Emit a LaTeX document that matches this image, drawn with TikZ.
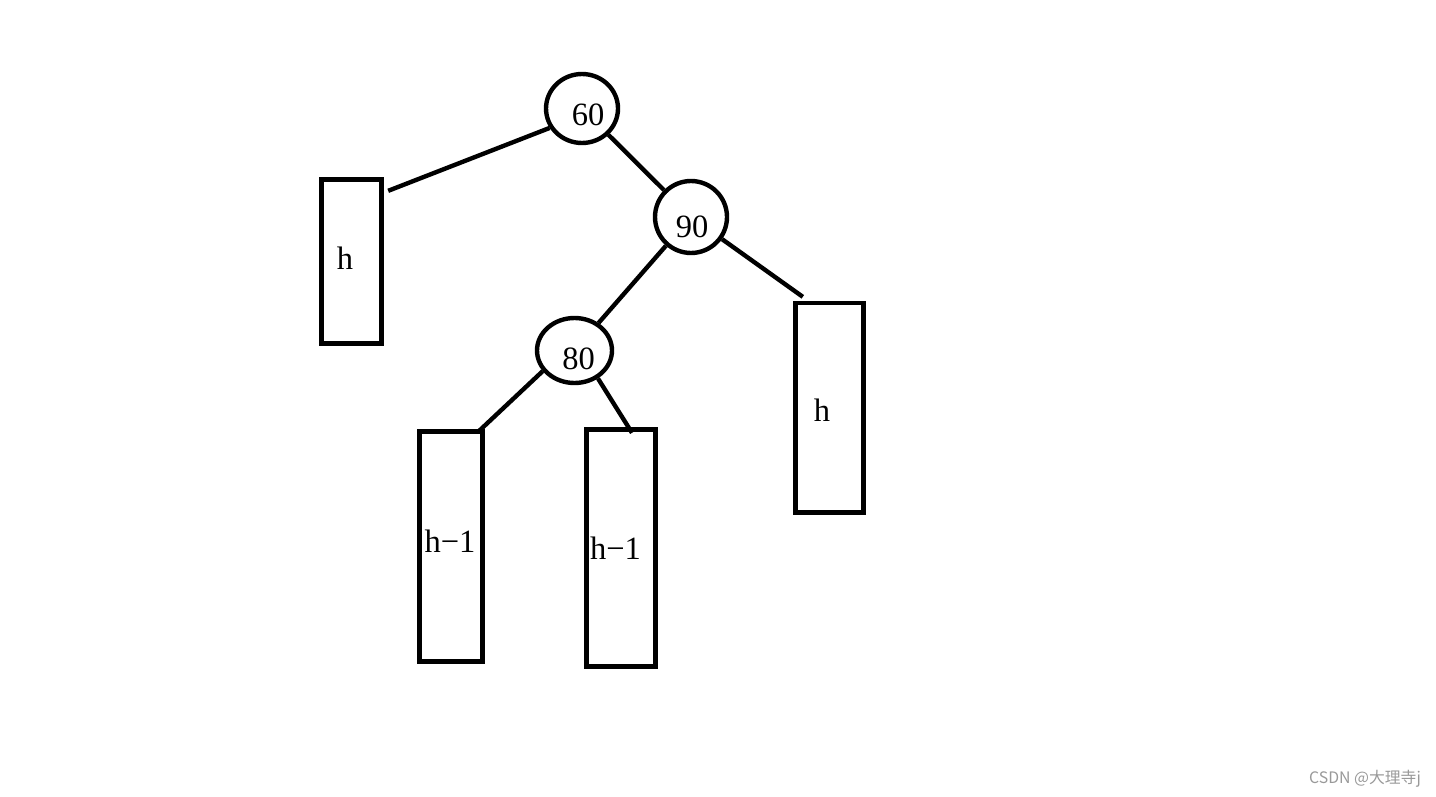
\documentclass[tikz,border=0pt]{standalone}
\usepackage{fontspec}
\setmainfont{Liberation Serif}
\newfontfamily\cjk{Noto Sans CJK SC}
\usetikzlibrary{shapes.geometric}
\tikzset{
  v/.style={ellipse,draw,inner sep=0pt},
  st/.style={rectangle,draw,inner sep=0pt},
  lb/.style={inner sep=0pt,font=\fontsize{18.5}{20}\selectfont},
  every picture/.style={line width=2.5pt},
}
\begin{document}
\begin{tikzpicture}[x=0.02cm,y=-0.02cm]
\useasboundingbox (0,0) rectangle (1436,797);
\node[v,minimum width=1.44cm,minimum height=1.38cm,label={[lb,xshift=.12cm,yshift=-.12cm]center:60}] (n60) at (582,108.5){};
\node[v,minimum width=1.44cm,minimum height=1.44cm,label={[lb,xshift=.02cm,yshift=-.19cm]center:90}] (n90) at (691,217){};
\node[v,minimum width=1.5cm,minimum height=1.3cm,label={[lb,xshift=.08cm,yshift=-.17cm]center:80}] (n80) at (574.5,350.5){};
\node[st,minimum width=1.2cm,minimum height=3.28cm,label={[lb,xshift=-.13cm,yshift=.07cm]center:h}] (hl) at (351.5,261.5){};
\node[st,minimum width=1.36cm,minimum height=4.19cm,label={[lb,xshift=-.15cm,yshift=-.04cm]center:h}] (hr) at (829.5,407.75){};
\node[st,minimum width=1.26cm,minimum height=4.6cm,label={[lb,xshift=-.02cm,yshift=.11cm]center:h−1}] (hll) at (451,546.5){};
\node[st,minimum width=1.38cm,minimum height=4.74cm,label={[lb,xshift=-.11cm,yshift=-.01cm]center:h−1}] (hlr) at (621,548){};
\draw (n60.211) -- ([shift={(4.5,13.5)}]hl.north east);
\draw (n60) -- (n90); \draw (n90) -- (n80);
\draw (n90) -- ([shift={(9.5,-4)}]hr.north west);
\draw (n80.213) -- ([shift={(-5.5,1.5)}]hll.north east);
\draw (n80.310) -- ([shift={(11,5.5)}]hlr.north);
\node[font=\cjk\fontsize{9}{10}\selectfont,text=black!40,inner sep=0pt] (wm) at (1365,779){CSDN @大理寺j};
\end{tikzpicture}
\end{document}
